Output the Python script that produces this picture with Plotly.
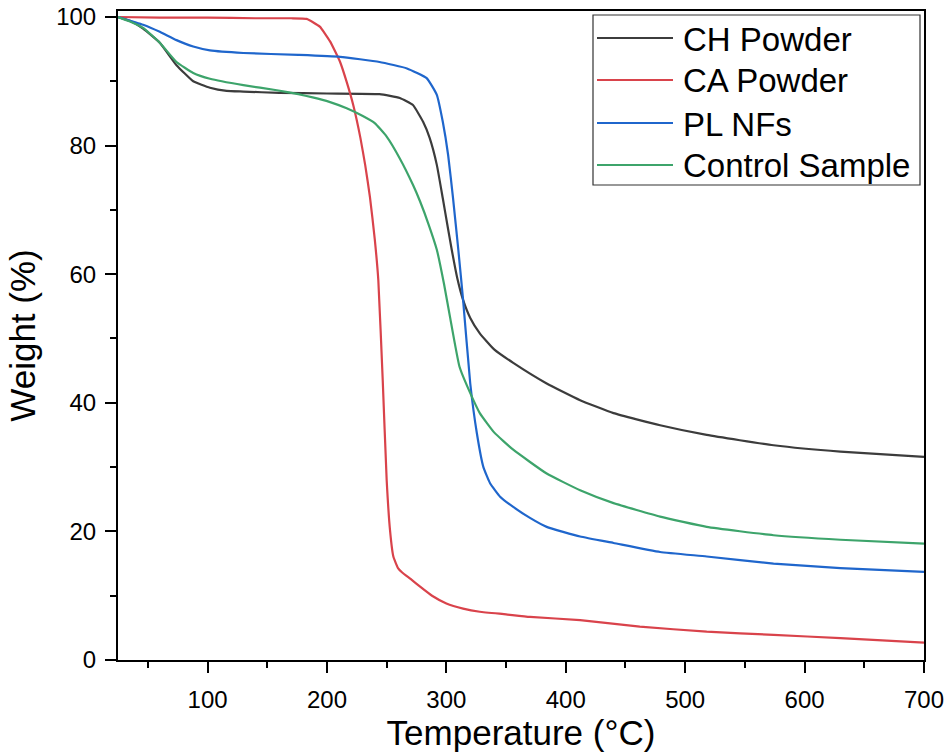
import plotly.graph_objects as go

# ---- data ----
series_names = ["CH Powder", "CA Powder", "PL NFs", "Control Sample"]
series_colors = ["#3c3c3c", "#d9434b", "#1f66cc", "#3da46b"]

ch_T = [25, 35, 46, 60, 74, 88, 102, 116, 130, 160, 200, 244, 261, 272, 280.5, 286, 292, 297, 301, 304.5, 309, 314, 320, 328, 340, 356, 384, 412, 440, 479, 518, 574, 630, 700]
ch_W = [100, 99.4, 98.2, 96.0, 92.5, 90.0, 89.0, 88.5, 88.4, 88.2, 88.1, 88.0, 87.4, 86.3, 83.7, 81.2, 77.0, 71.8, 67.5, 63.8, 59.5, 56.0, 53.2, 50.8, 48.3, 46.2, 43.0, 40.4, 38.4, 36.5, 35.0, 33.4, 32.4, 31.6]

ca_T = [25, 60, 100, 140, 170, 183, 194, 202.6, 211, 216.5, 222, 228, 232, 236, 240, 243, 246.7, 250, 252.8, 255.6, 259.5, 263, 270, 278, 288, 300, 314, 328, 350, 370, 412, 462, 518, 574, 630, 700]
ca_W = [100, 99.9, 99.9, 99.8, 99.8, 99.7, 98.5, 96.2, 93.0, 89.9, 86.3, 81.2, 77.0, 72.0, 65.5, 59.1, 43.5, 28.0, 20.2, 16.1, 14.3, 13.6, 12.6, 11.4, 10.0, 8.8, 8.0, 7.5, 7.1, 6.7, 6.2, 5.2, 4.4, 3.9, 3.4, 2.7]

pl_T = [25, 46, 60, 74, 88, 102, 130, 176, 211, 244, 267, 283.5, 292, 297, 301.5, 305.6, 310, 314, 320, 325.5, 331, 336.6, 345, 356, 370, 384, 412, 440, 479, 518, 574, 630, 700]
pl_W = [100, 98.8, 97.7, 96.4, 95.4, 94.8, 94.4, 94.1, 93.8, 93.0, 92.0, 90.5, 87.9, 83.7, 78.5, 71.8, 63.8, 56.0, 43.0, 35.3, 30.0, 27.5, 25.4, 23.8, 22.1, 20.7, 19.2, 18.2, 16.8, 16.1, 15.0, 14.3, 13.7]

cs_T = [25, 35, 46, 60, 74, 88, 102, 130, 158, 176, 188, 202, 216.5, 230, 240, 250, 261, 272, 278, 285, 292, 298, 303, 311, 320, 328, 340, 356, 384, 412, 440, 479, 518, 574, 630, 700]
cs_W = [100, 99.3, 98.3, 96.0, 93.0, 91.3, 90.4, 89.4, 88.6, 88.0, 87.5, 86.8, 85.8, 84.6, 83.5, 81.4, 78.0, 73.9, 71.3, 67.8, 63.8, 58.5, 53.4, 45.6, 41.5, 38.4, 35.4, 32.7, 29.0, 26.4, 24.4, 22.3, 20.7, 19.4, 18.7, 18.1]

x_ticks = [100, 200, 300, 400, 500, 600, 700]
y_ticks = [0, 20, 40, 60, 80, 100]

series = [(ch_T, ch_W), (ca_T, ca_W), (pl_T, pl_W), (cs_T, cs_W)]

FONT = "Liberation Sans, Arial, sans-serif"
W_PX, H_PX = 948, 754
ML, MR, MT, MB = 118, 24, 11, 94
PW, PH = W_PX - ML - MR, H_PX - MT - MB

def px_x(px):
    return (px - ML) / PW

def px_y(py):
    return (H_PX - MB - py) / PH

fig = go.Figure()
for (T, Wt), name, col in zip(series, series_names, series_colors):
    fig.add_trace(go.Scatter(x=T, y=Wt, mode="lines", name=name,
                             line=dict(color=col, width=2.2, shape="spline", smoothing=0.4),
                             showlegend=False))

# custom legend (box, sample lines, labels)
shapes = [dict(type="rect", xref="paper", yref="paper",
               x0=px_x(593), x1=px_x(920), y0=px_y(185), y1=px_y(15),
               line=dict(color="#333333", width=1.2), fillcolor="rgba(0,0,0,0)")]
annotations = []
row_y = [38, 80, 123, 165]
for name, col, ry in zip(series_names, series_colors, row_y):
    shapes.append(dict(type="line", xref="paper", yref="paper",
                       x0=px_x(597), x1=px_x(673), y0=px_y(ry), y1=px_y(ry),
                       line=dict(color=col, width=2)))
    annotations.append(dict(xref="paper", yref="paper", x=px_x(681), y=px_y(ry + 1),
                            text=name, showarrow=False, xanchor="left", yanchor="middle",
                            font=dict(family=FONT, size=33, color="black")))

axis_common = dict(showline=True, linecolor="black", linewidth=2, mirror=True,
                   ticks="outside", ticklen=11, tickwidth=2, tickcolor="black",
                   showgrid=False, zeroline=False, automargin=False,
                   tickfont=dict(family=FONT, size=24, color="black"))

fig.update_layout(
    width=W_PX, height=H_PX,
    margin=dict(l=ML, r=MR, t=MT, b=MB),
    paper_bgcolor="white", plot_bgcolor="white",
    shapes=shapes, annotations=annotations,
    xaxis=dict(range=[25, 700], tickvals=x_ticks, ticktext=[str(v) for v in x_ticks],
               minor=dict(dtick=50, tick0=0, ticks="outside", ticklen=6, tickwidth=2, tickcolor="black"),
               ticklabelstandoff=6,
               title=dict(text="Temperature (°C)", font=dict(family=FONT, size=35, color="black"), standoff=8),
               **axis_common),
    yaxis=dict(range=[0, 100.93], tickvals=y_ticks, ticktext=[str(v) for v in y_ticks],
               minor=dict(dtick=10, tick0=0, ticks="outside", ticklen=6, tickwidth=2, tickcolor="black"),
               ticklabelstandoff=4,
               title=dict(text="Weight (%)", font=dict(family=FONT, size=35, color="black"), standoff=10),
               **axis_common),
)

fig.write_html("out.html", config={"displayModeBar": False},
               post_script="document.body.style.margin='0';document.body.style.overflow='hidden';")
